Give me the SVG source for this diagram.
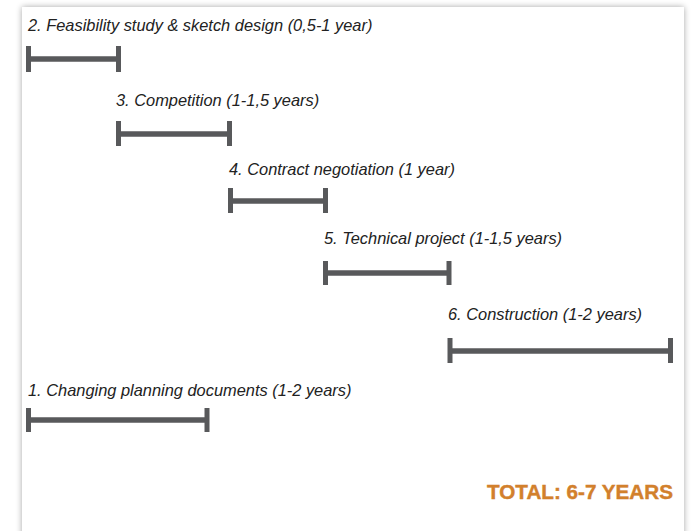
<svg xmlns="http://www.w3.org/2000/svg" width="692" height="531" viewBox="0 0 692 531">
  <defs>
    <filter id="sh" x="-5%" y="-5%" width="110%" height="110%">
      <feGaussianBlur in="SourceAlpha" stdDeviation="3"/>
      <feComponentTransfer><feFuncA type="linear" slope="0.35"/></feComponentTransfer>
      <feMerge><feMergeNode/><feMergeNode in="SourceGraphic"/></feMerge>
    </filter>
  </defs>
  <style>
    .lbl { font-family: "Liberation Sans", Arial, sans-serif; font-style: italic; font-size: 16.4px; fill: #222222; }
    .bar { stroke: #58595b; fill: none; }
    .ln { stroke-width: 5.5; }
    .cap { stroke-width: 5; }
    .total { font-family: "Liberation Sans", Arial, sans-serif; font-weight: bold; font-size: 19.5px; fill: #d2802c; stroke: #d2802c; stroke-width: 0.4; }
  </style>
  <rect x="0" y="0" width="692" height="531" fill="#ffffff"/>
  <rect x="22" y="7" width="662" height="540" fill="#ffffff" filter="url(#sh)"/>

  <g id="connectors"></g>

  <g id="node-2">
    <text class="lbl" x="28" y="31">2. Feasibility study &amp; sketch design (0,5-1 year)</text>
    <g class="bar"><line class="ln" x1="28" y1="59" x2="119" y2="59"/><line class="cap" x1="28.5" y1="46" x2="28.5" y2="72"/><line class="cap" x1="118.5" y1="46" x2="118.5" y2="72"/></g>
  </g>
  <g id="node-3">
    <text class="lbl" x="116" y="106">3. Competition (1-1,5 years)</text>
    <g class="bar"><line class="ln" x1="118" y1="134" x2="230" y2="134"/><line class="cap" x1="118.5" y1="121" x2="118.5" y2="146"/><line class="cap" x1="229.5" y1="121" x2="229.5" y2="146"/></g>
  </g>
  <g id="node-4">
    <text class="lbl" x="229" y="175">4. Contract negotiation (1 year)</text>
    <g class="bar"><line class="ln" x1="231" y1="201" x2="326" y2="201"/><line class="cap" x1="230.5" y1="188" x2="230.5" y2="213"/><line class="cap" x1="325.5" y1="188" x2="325.5" y2="213"/></g>
  </g>
  <g id="node-5">
    <text class="lbl" x="324" y="244">5. Technical project (1-1,5 years)</text>
    <g class="bar"><line class="ln" x1="326" y1="273" x2="449" y2="273"/><line class="cap" x1="325.5" y1="261" x2="325.5" y2="285"/><line class="cap" x1="449" y1="261" x2="449" y2="285"/></g>
  </g>
  <g id="node-6">
    <text class="lbl" x="448" y="320">6. Construction (1-2 years)</text>
    <g class="bar"><line class="ln" x1="450" y1="351" x2="671" y2="351"/><line class="cap" x1="450" y1="338" x2="450" y2="363"/><line class="cap" x1="670.5" y1="338" x2="670.5" y2="363"/></g>
  </g>
  <g id="node-1">
    <text class="lbl" x="28" y="396">1. Changing planning documents (1-2 years)</text>
    <g class="bar"><line class="ln" x1="28" y1="420" x2="207" y2="420"/><line class="cap" x1="28.5" y1="408" x2="28.5" y2="432"/><line class="cap" x1="207" y1="408" x2="207" y2="432"/></g>
  </g>
  <g id="total">
    <text class="total" x="487" y="499" textLength="186" lengthAdjust="spacingAndGlyphs">TOTAL: 6-7 YEARS</text>
  </g>
</svg>
